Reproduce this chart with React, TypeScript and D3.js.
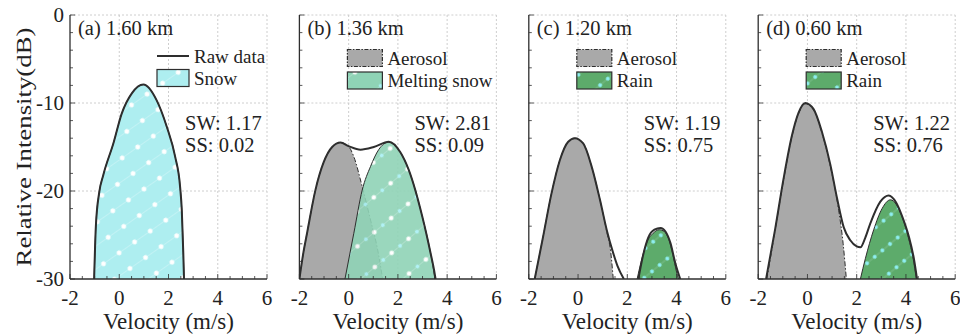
import React from "react";
import * as d3 from "d3";

type Pt = [number, number];

const xTicks = [-2, 0, 2, 4, 6];
const yTicks = [0, -10, -20, -30];

const titles = ["(a) 1.60 km", "(b) 1.36 km", "(c) 1.20 km", "(d) 0.60 km"];
const swValues = ["1.17", "2.81", "1.19", "1.22"];
const ssValues = ["0.02", "0.09", "0.75", "0.76"];

// (a) 1.60 km
const snowA: Pt[] = [
  [-1.02, -30], [-0.95, -24], [-0.81, -20.1], [-0.65, -18.2], [-0.24, -14.6],
  [0.1, -11.2], [0.51, -8.9], [0.98, -7.9], [1.52, -9.7], [1.93, -12.7],
  [2.27, -16.1], [2.47, -19.5], [2.54, -22.2], [2.6, -27], [2.63, -30],
];
const rawA: Pt[][] = [snowA];

// (b) 1.36 km
const aerosolB: Pt[] = [
  [-2, -30], [-1.85, -27.2], [-1.69, -24.8], [-1.35, -19.9], [-1.01, -16.7],
  [-0.67, -15.0], [-0.33, -14.5], [0.0, -14.95], [0.21, -16.1], [0.55, -19.5],
  [0.89, -23.3], [1.18, -26.7], [1.38, -30],
];
const meltB: Pt[] = [
  [-0.15, -30], [0.21, -24.8], [0.55, -19.9], [0.89, -17.2], [1.22, -15.3],
  [1.63, -14.45], [2.1, -15.6], [2.44, -17.6], [2.99, -22.9], [3.33, -27.1],
  [3.45, -29], [3.5, -30],
];
const rawB: Pt[][] = [[
  [-2, -30], [-1.85, -27.2], [-1.69, -24.8], [-1.35, -19.9], [-1.01, -16.7],
  [-0.67, -15.0], [-0.33, -14.5], [0.0, -14.9], [0.48, -15.3], [1.02, -15.0],
  [1.63, -14.4], [2.1, -15.6], [2.44, -17.6], [2.99, -22.9], [3.33, -27.1],
  [3.47, -29], [3.53, -30],
]];

// (c) 1.20 km
const aerosolC: Pt[] = [
  [-1.76, -30], [-1.42, -25.2], [-1.08, -20.3], [-0.74, -16.5], [-0.4, -14.4],
  [-0.13, -14.0], [0.21, -14.6], [0.55, -17.2], [0.89, -21.0], [1.18, -24.8],
  [1.33, -27], [1.43, -30],
];
const rainC: Pt[] = [
  [2.4, -30], [2.6, -27.6], [2.8, -25.8], [3.05, -24.8], [3.3, -24.4],
  [3.5, -24.6], [3.7, -25.6], [3.85, -27.2], [4.0, -29.2], [4.08, -30],
];
const rawC: Pt[][] = [
  [
    [-1.76, -30], [-1.42, -25.2], [-1.08, -20.3], [-0.74, -16.5], [-0.4, -14.4],
    [-0.13, -14.0], [0.21, -14.6], [0.55, -17.2], [0.89, -21.0], [1.18, -24.6],
    [1.4, -26.8], [1.6, -28.5], [1.86, -30],
  ],
  [
    [2.45, -30], [2.65, -27.2], [2.85, -25.3], [3.1, -24.4], [3.35, -24.2],
    [3.55, -24.6], [3.75, -25.9], [3.95, -28.2], [4.15, -30],
  ],
];

// (d) 0.60 km
const aerosolD: Pt[] = [
  [-1.65, -30], [-1.31, -24.4], [-0.97, -18.75], [-0.63, -13.8], [-0.36, -11.2],
  [-0.09, -10.1], [0.25, -10.8], [0.59, -13.4], [0.93, -17.2], [1.27, -22.2],
  [1.45, -26], [1.58, -30],
];
const rainD: Pt[] = [
  [2.15, -30], [2.35, -27.7], [2.69, -24.4], [3.03, -22.0], [3.37, -21.0],
  [3.6, -21.5], [3.85, -23.0], [4.1, -25.3], [4.3, -27.8], [4.42, -30],
];
const rawD: Pt[][] = [[
  [-1.68, -30], [-1.31, -24.3], [-0.97, -18.6], [-0.63, -13.7], [-0.36, -11.1],
  [-0.09, -10.0], [0.25, -10.7], [0.59, -13.3], [0.93, -17.0], [1.2, -20.8],
  [1.47, -24.1], [1.74, -25.6], [2.0, -26.3], [2.15, -26.4], [2.35, -25.3],
  [2.55, -23.7], [2.96, -21.2], [3.3, -20.5], [3.6, -21.3], [3.85, -22.9],
  [4.12, -25.2], [4.33, -27.8], [4.45, -30],
]];

type Layer = { kind: string; pts: Pt[] };
type LegendItem = { kind: string; label: string };

const panels: { layers: Layer[]; raw: Pt[][]; legend: LegendItem[] }[] = [
  {
    layers: [{ kind: "snow", pts: snowA }],
    raw: rawA,
    legend: [{ kind: "raw", label: "Raw data" }, { kind: "snow", label: "Snow" }],
  },
  {
    layers: [{ kind: "aerosol", pts: aerosolB }, { kind: "melt", pts: meltB }],
    raw: rawB,
    legend: [{ kind: "aerosol", label: "Aerosol" }, { kind: "melt", label: "Melting snow" }],
  },
  {
    layers: [{ kind: "aerosol", pts: aerosolC }, { kind: "rain", pts: rainC }],
    raw: rawC,
    legend: [{ kind: "aerosol", label: "Aerosol" }, { kind: "rain", label: "Rain" }],
  },
  {
    layers: [{ kind: "aerosol", pts: aerosolD }, { kind: "rain", pts: rainD }],
    raw: rawD,
    legend: [{ kind: "aerosol", label: "Aerosol" }, { kind: "rain", label: "Rain" }],
  },
];

const fillOf: Record<string, string> = {
  snow: "url(#pat-snow)",
  aerosol: "#a9a9a9",
  melt: "url(#pat-melt)",
  rain: "url(#pat-rain)",
};

const edge = "#2e2e2e";
const font =
  '"Liberation Serif", "Times New Roman", Times, Tinos, "Nimbus Roman", "Nimbus Roman No9 L", FreeSerif, "DejaVu Serif", "Noto Serif", Georgia, serif';

const W = 960;
const H = 336;
const top = 15;
const bottom = 279;
const pw = 197;
const lefts = [0, 1, 2, 3].map((i) => 70 + i * 229.4);

const y = d3.scaleLinear().domain([-30, 0]).range([bottom, top]);

const Panel = ({ i }: { i: number }) => {
  const left = lefts[i];
  const p = panels[i];
  const x = d3.scaleLinear().domain([-2, 6]).range([left, left + pw]);
  const area = d3
    .area<Pt>()
    .x((d) => x(d[0]))
    .y0(y(-30))
    .y1((d) => y(d[1]))
    .curve(d3.curveMonotoneX);
  const line = d3
    .line<Pt>()
    .x((d) => x(d[0]))
    .y((d) => y(d[1]))
    .curve(d3.curveMonotoneX);

  const minorY = d3.range(-30, 0.1, 2);
  const minorX = d3.range(-2, 6.01, 0.5);

  const legendX = i === 0 ? left + 87 : left + 48;
  const legendW = i === 0 ? 32 : 35;
  const legendRows = i === 0 ? [56, 78] : [58, 80.5];

  return (
    <g>
      <clipPath id={`clip-${i}`}>
        <rect x={left} y={top} width={pw} height={bottom - top} />
      </clipPath>
      {/* grid */}
      {xTicks.slice(1).map((t) => (
        <line key={`gx${t}`} x1={x(t)} x2={x(t)} y1={top} y2={bottom}
          stroke="#c8c8c8" strokeWidth={0.9} strokeDasharray="2,2" />
      ))}
      {yTicks.slice(0, 3).map((t) => (
        <line key={`gy${t}`} x1={left} x2={left + pw} y1={y(t)} y2={y(t)}
          stroke="#c8c8c8" strokeWidth={0.9} strokeDasharray="2,2" />
      ))}

      <g clipPath={`url(#clip-${i})`}>
        {p.layers.map((l, k) => (
          <g key={k}>
            <path d={area(l.pts) ?? ""} fill={fillOf[l.kind]}
              opacity={l.kind === "melt" ? 0.9 : 1} />
            <path d={line(l.pts) ?? ""} fill="none" stroke={edge}
              strokeWidth={1}
              strokeDasharray={l.kind === "aerosol" ? "5,2,1.5,2" : undefined} />
          </g>
        ))}
        {p.raw.map((seg, k) => (
          <path key={`r${k}`} d={line(seg) ?? ""} fill="none" stroke={edge} strokeWidth={2} />
        ))}
      </g>

      {/* axes */}
      <line x1={left} x2={left} y1={top} y2={bottom} stroke={edge} strokeWidth={1.3} />
      <line x1={left} x2={left + pw} y1={bottom} y2={bottom} stroke={edge} strokeWidth={1.6} />
      {minorY.map((t) => (
        <line key={`my${t}`} x1={left} x2={left + (t % 10 === 0 ? 5 : 3)} y1={y(t)} y2={y(t)}
          stroke={edge} strokeWidth={0.8} />
      ))}
      {minorX.map((t) => (
        <line key={`mx${t}`} x1={x(t)} x2={x(t)} y1={bottom} y2={bottom - (t % 2 === 0 ? 5 : 3)}
          stroke={edge} strokeWidth={0.8} />
      ))}
      {xTicks.map((t) => (
        <text key={`xt${t}`} x={x(t)} y={305} textAnchor="middle" fontSize={21} fill="#222">
          {t}
        </text>
      ))}
      {i === 0 &&
        yTicks.map((t) => (
          <text key={`yt${t}`} x={left - 6} y={y(t) + 7} textAnchor="end" fontSize={21} fill="#222">
            {t}
          </text>
        ))}
      <text x={left + pw / 2} y={329} textAnchor="middle" fontSize={23} fill="#222">
        Velocity (m/s)
      </text>

      {/* title */}
      <text x={left + 8} y={35} fontSize={20.5} fill="#222">
        {titles[i]}
      </text>

      {/* legend */}
      {p.legend.map((item, k) => {
        const cy = legendRows[k];
        return (
          <g key={item.label}>
            {item.kind === "raw" ? (
              <line x1={legendX} x2={legendX + legendW} y1={cy} y2={cy} stroke={edge} strokeWidth={2} />
            ) : (
              <rect x={legendX} y={cy - 8.5} width={legendW} height={17} fill={fillOf[item.kind]}
                stroke={edge} strokeWidth={1.2}
                strokeDasharray={item.kind === "aerosol" ? "4,1.5,1.5,1.5" : undefined} />
            )}
            <text x={legendX + legendW + 5} y={cy + 6.5} fontSize={19} fill="#222">
              {item.label}
            </text>
          </g>
        );
      })}

      {/* stats */}
      <text x={left + 115} y={130} fontSize={20.5} fill="#222">
        SW: {swValues[i]}
      </text>
      <text x={left + 115} y={152} fontSize={20.5} fill="#222">
        SS: {ssValues[i]}
      </text>
    </g>
  );
};

export default function App() {
  return (
    <svg width={W} height={H}
      style={{ position: "absolute", left: 0, top: 0, background: "#fff", fontFamily: font }}>
      <defs>
        <pattern id="pat-snow" width={19} height={19} patternUnits="userSpaceOnUse"
          patternTransform="rotate(-35)">
          <rect width={19} height={19} fill="#aeeef0" />
          <line x1={0} x2={19} y1={9.5} y2={9.5} stroke="#ffffff" strokeOpacity={0.25} strokeWidth={1} />
          <circle cx={9.5} cy={9.5} r={2.4} fill="#ffffff" />
        </pattern>
        <pattern id="pat-melt" width={22} height={27} patternUnits="userSpaceOnUse"
          patternTransform="rotate(-40)">
          <rect width={22} height={27} fill="#8fd3b6" />
          <line x1={0} x2={22} y1={13.5} y2={13.5} stroke="#ffffff" strokeOpacity={0.2} strokeWidth={1} />
          <circle cx={5.5} cy={13.5} r={2.3} fill="#ffffff" />
          <circle cx={16.5} cy={13.5} r={1.9} fill="#a8f0f4" />
        </pattern>
        <pattern id="pat-rain" width={10} height={22} patternUnits="userSpaceOnUse"
          patternTransform="rotate(-40)">
          <rect width={10} height={22} fill="#5dab6b" />
          <line x1={0} x2={10} y1={11} y2={11} stroke="#cfeede" strokeOpacity={0.25} strokeWidth={1} />
          <circle cx={5} cy={11} r={1.9} fill="#8ff0f4" />
        </pattern>
      </defs>
      {[0, 1, 2, 3].map((i) => (
        <Panel key={i} i={i} />
      ))}
      <text transform={`translate(31,147) rotate(-90)`} textAnchor="middle" fontSize={22}
        textLength={239} lengthAdjust="spacingAndGlyphs" fill="#222">
        Relative Intensity(dB)
      </text>
    </svg>
  );
}
